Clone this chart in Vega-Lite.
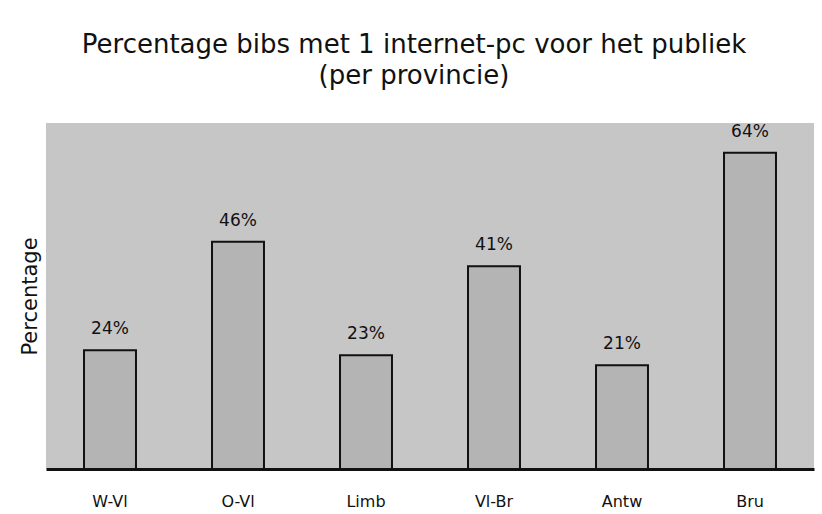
{
  "$schema": "https://vega.github.io/schema/vega-lite/v6.json",
  "width": 768,
  "height": 346,
  "autosize": {"type": "none"},
  "padding": {"left": 46, "top": 123, "right": 8, "bottom": 45},
  "background": "white",
  "title": {
    "text": ["Percentage bibs met 1 internet-pc voor het publiek", "(per provincie)"],
    "font": "DejaVu Sans",
    "fontSize": 26,
    "fontWeight": "normal",
    "color": "#111111",
    "anchor": "middle",
    "dx": -16,
    "offset": 34,
    "lineHeight": 31
  },
  "data": {
    "values": [
      {"provincie": "W-Vl", "pct": 24, "label": "24%"},
      {"provincie": "O-Vl", "pct": 46, "label": "46%"},
      {"provincie": "Limb", "pct": 23, "label": "23%"},
      {"provincie": "Vl-Br", "pct": 41, "label": "41%"},
      {"provincie": "Antw", "pct": 21, "label": "21%"},
      {"provincie": "Bru", "pct": 64, "label": "64%"}
    ]
  },
  "encoding": {
    "x": {
      "field": "provincie",
      "type": "nominal",
      "sort": null,
      "scale": {"paddingInner": 0.594, "paddingOuter": 0.297},
      "axis": {
        "title": null,
        "labelAngle": 0,
        "labelFont": "DejaVu Sans",
        "labelFontSize": 16,
        "labelColor": "#111111",
        "labelPadding": 24,
        "ticks": false,
        "domainColor": "#111111",
        "domainWidth": 3
      }
    },
    "y": {
      "field": "pct",
      "type": "quantitative",
      "scale": {"domain": [0, 70]},
      "axis": {
        "title": "Percentage",
        "titleFont": "DejaVu Sans",
        "titleFontSize": 21,
        "titleFontWeight": "normal",
        "titleColor": "#111111",
        "titleX": -16,
        "titleY": 173,
        "titleAngle": -90,
        "titleAlign": "center",
        "titleBaseline": "middle",
        "labels": false,
        "ticks": false,
        "domain": false,
        "grid": false
      }
    }
  },
  "layer": [
    {
      "mark": {"type": "bar", "fill": "#b4b4b4", "stroke": "#111111", "strokeWidth": 2}
    },
    {
      "mark": {
        "type": "text",
        "baseline": "bottom",
        "dy": -12,
        "font": "DejaVu Sans",
        "fontSize": 17,
        "color": "#111111"
      },
      "encoding": {"text": {"field": "label"}}
    }
  ],
  "config": {
    "view": {"fill": "#c6c6c6", "stroke": null}
  }
}
